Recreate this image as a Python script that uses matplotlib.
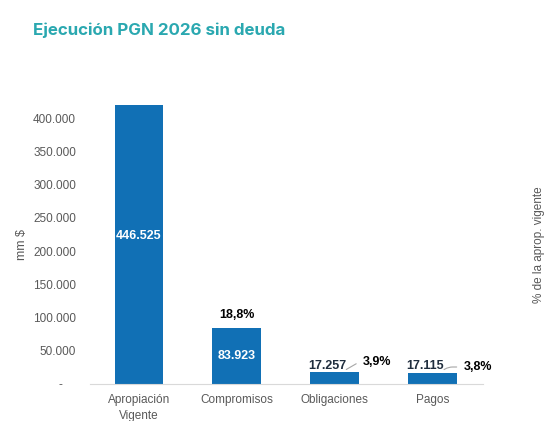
import numpy as np
import matplotlib.pyplot as plt
from matplotlib.ticker import FuncFormatter

categorias = ['Apropiación\nVigente', 'Compromisos', 'Obligaciones', 'Pagos']
valores = [446525, 83923, 17257, 17115]
etiquetas = ['446.525', '83.923', '17.257', '17.115']
porcentajes = ['', '18,8%', '3,9%', '3,8%']
yticks = [0, 50000, 100000, 150000, 200000, 250000, 300000, 350000, 400000]

plt.rcParams['font.family'] = ['Liberation Sans', 'DejaVu Sans']
azul = '#1170b5'
gris = '#595959'

fig = plt.figure(figsize=(5.56, 4.21), dpi=100)
ax = fig.add_axes([0.162, 0.088, 0.707, 0.663])
x = np.arange(len(categorias))
ax.bar(x, valores, width=0.5, color=azul, zorder=2)
ax.set_xlim(-0.5, 3.52)
ax.set_ylim(0, 420000)
ax.set_yticks(yticks)
ax.yaxis.set_major_formatter(FuncFormatter(
    lambda v, p: '-    ' if v == 0 else '{:,.0f}'.format(v).replace(',', '.')))
ax.set_xticks(x)
ax.set_xticklabels(categorias, color=gris, fontsize=8.5, linespacing=1.5)
ax.tick_params(axis='y', length=0, pad=10, labelsize=8.5, labelcolor=gris)
ax.tick_params(axis='x', length=0, pad=7)
for s in ['top', 'right', 'left']:
    ax.spines[s].set_visible(False)
ax.spines['bottom'].set_color('#d9d9d9')
ax.set_ylabel('mm $', color=gris, fontsize=9, labelpad=4)

# etiquetas de valor
for i, (v, t) in enumerate(zip(valores, etiquetas)):
    if v > 50000:
        ax.text(i, v / 2, t, color='white', fontsize=9, fontweight='bold',
                ha='center', va='center', zorder=3)
    else:
        ax.text(i - 0.07, v + 10500, t, color='#1f2d3d', fontsize=9,
                fontweight='bold', ha='center', va='center', zorder=3)

# etiquetas de porcentaje
ax.text(1, valores[1] + 19500, porcentajes[1], color='black', fontsize=9,
        fontweight='bold', ha='center', va='center')
pos_pct = [(2, 0.29, 33000), (3, 0.32, 25500)]
for i, dx, yy in pos_pct:
    ax.annotate(porcentajes[i], xy=(i + 0.12, valores[i] + 4500), xytext=(i + dx, yy),
                fontsize=9, fontweight='bold', color='black', ha='left', va='center',
                arrowprops=dict(arrowstyle='-', color='#a6a6a6', lw=0.8,
                                shrinkA=3, shrinkB=0,
                                connectionstyle='angle,angleA=0,angleB=30,rad=4'))

ax2 = ax.twinx()
ax2.set_yticks([])
for s in ax2.spines.values():
    s.set_visible(False)
ax2.set_ylabel('% de la aprop. vigente', color=gris, fontsize=8.5, labelpad=36)

fig.text(0.06, 0.927, 'Ejecución PGN 2026 sin deuda', color='#2aa8b0',
         fontsize=12.2, fontweight='bold', family=['Inter', 'DejaVu Sans'], va='center')

fig.savefig('out.png', dpi=100)
